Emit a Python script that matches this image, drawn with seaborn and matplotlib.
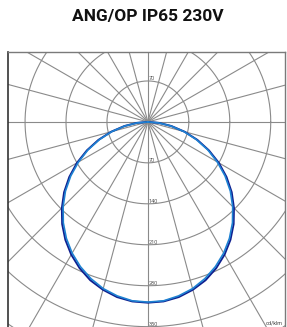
import numpy as np
import pandas as pd
import matplotlib
matplotlib.use("Agg")
import matplotlib.pyplot as plt
import seaborn as sns

title = "ANG/OP IP65 230V"
unit_label = "cd/klm"
gamma_deg = [0, 5, 10, 15, 20, 25, 30, 35, 40, 45, 50, 55, 60, 65, 70, 75, 80, 85, 90]
c0_c180 = [309, 308, 304, 297, 288, 276, 262, 246, 228, 208, 187, 164, 140, 115, 90, 65, 41, 19, 0]
c90_c270 = [308, 307, 302, 295, 285, 273, 259, 243, 225, 205, 184, 161, 137, 113, 88, 64, 40, 18, 0]
ring_values = [70, 140, 210, 280, 350, 420]
ring_labels = ["70", "140", "210", "280", "350"]
spoke_step = 15

sns.set_theme(style="white")
plt.rcParams['font.family'] = ['Roboto', 'DejaVu Sans']

W, H = 287, 327
fig = plt.figure(figsize=(W / 100, H / 100), dpi=100)
ax = fig.add_axes([7.5 / W, 0, 277.5 / W, 274.7 / H])

scale = 0.585
x0 = -240.0
x1 = x0 + 277.5 / scale
y1 = 119.0
y0 = y1 - 274.7 / scale

grid_c = "#8a8a8a"
th = np.linspace(0, 2 * np.pi, 400)
for r in ring_values:
    ax.plot(r * np.cos(th), r * np.sin(th), color=grid_c, lw=0.8, zorder=1)
for a in range(0, 360, spoke_step):
    t = np.deg2rad(a)
    ax.plot([0, 800 * np.cos(t)], [0, 800 * np.sin(t)], color=grid_c, lw=0.8, zorder=1)

ax.text(1, ring_values[0] + 5, ring_labels[0], fontsize=4, color="#555555",
        ha="left", va="center", zorder=3)
for r, lab in zip(ring_values, ring_labels):
    ax.text(1, -r + 4, lab, fontsize=4, color="#555555", ha="left", va="center", zorder=3)

def curve(vals, name):
    g = np.array([-v for v in gamma_deg[::-1]] + gamma_deg[1:], dtype=float)
    I = np.array(vals[::-1] + vals[1:], dtype=float)
    t = np.deg2rad(g)
    return pd.DataFrame({"x": I * np.sin(t), "y": -I * np.cos(t), "plane": name})

d1 = curve(c0_c180, "C0-C180")
d2 = curve(c90_c270, "C90-C270")
sns.lineplot(data=d1, x="x", y="y", sort=False, estimator=None, units="plane",
             color="#0f1f8f", lw=1.4, ax=ax, zorder=4)
sns.lineplot(data=d2, x="x", y="y", sort=False, estimator=None, units="plane",
             color="#1e82d2", lw=1.2, ax=ax, zorder=5)

ax.set_xlim(x0, x1)
ax.set_ylim(y0, y1)
ax.set_xticks([])
ax.set_yticks([])
ax.set_xlabel("")
ax.set_ylabel("")
ax.spines["bottom"].set_visible(False)
ax.spines["left"].set_color("#333333")
ax.spines["left"].set_linewidth(1.2)
for s in ["top", "right"]:
    ax.spines[s].set_color("#7a7a7a")
    ax.spines[s].set_linewidth(1.0)

ax.text(x1 - 3, y0 + 3, unit_label, fontsize=4, color="#444444", ha="right", va="bottom", zorder=6)

fig.text(147.5 / W, 1 - 17 / H, title, fontsize=12.5, fontweight="bold", color="#111111",
         ha="center", va="center")

fig.savefig("out.png", dpi=100)
